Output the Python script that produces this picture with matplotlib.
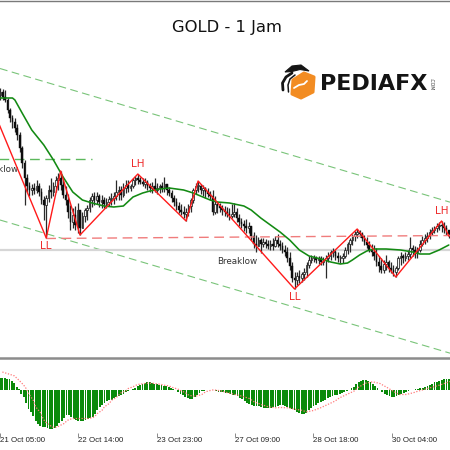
import numpy as np
import matplotlib
matplotlib.use("Agg")
import matplotlib.pyplot as plt
from matplotlib.patches import Polygon
from matplotlib.lines import Line2D
import matplotlib.transforms as mtransforms

# ---------------- data (price in chart points, one value per 1h bar) ----------------
tick_labels = ["21 Oct 05:00", "22 Oct 14:00", "23 Oct 23:00",
               "27 Oct 09:00", "28 Oct 18:00", "30 Oct 04:00"]
bars_per_tick = 33

high = [310, 312, 312, 312, 311, 310, 302, 292, 285, 282,
        276, 268, 254, 240, 226, 218, 216, 217, 220, 217,
        212, 204, 205, 215, 222, 218, 224, 227, 229, 220,
        214, 206, 195, 192, 194, 197, 190, 188, 192, 195,
        203, 207, 208, 208, 206, 205, 203, 202, 204, 207,
        208, 220, 214, 214, 217, 220, 220, 216, 222, 224,
        226, 223, 222, 222, 220, 217, 218, 222, 217, 216,
        218, 223, 215, 213, 210, 205, 202, 198, 196, 194,
        192, 196, 202, 212, 217, 219, 216, 215, 213, 212,
        209, 210, 204, 197, 197, 195, 194, 193, 192, 196,
        197, 192, 186, 182, 180, 181, 178, 174, 168, 165,
        163, 162, 162, 161, 160, 160, 162, 164, 166, 160,
        158, 155, 153, 148, 138, 128, 128, 130, 128, 132,
        138, 144, 145, 145, 144, 144, 144, 143, 145, 148,
        150, 152, 150, 148, 145, 147, 153, 158, 162, 166,
        169, 171, 170, 168, 165, 163, 159, 156, 155, 152,
        144, 142, 140, 145, 140, 138, 135, 134, 144, 148,
        146, 148, 150, 163, 155, 154, 153, 160, 164, 166,
        168, 171, 173, 174, 177, 178, 179, 178, 175, 170]

low = [300, 302, 301, 300, 300, 298, 287, 278, 272, 268,
       260, 248, 232, 195, 208, 204, 205, 206, 207, 204,
       196, 180, 162, 198, 202, 204, 208, 210, 210, 202,
       195, 182, 170, 172, 170, 167, 165, 172, 178, 180,
       188, 193, 195, 196, 193, 192, 192, 192, 194, 195,
       196, 200, 200, 200, 203, 207, 208, 209, 212, 215,
       216, 216, 214, 212, 210, 208, 207, 208, 206, 207,
       208, 208, 205, 204, 198, 194, 190, 187, 185, 182,
       179, 184, 188, 197, 206, 208, 206, 204, 202, 203,
       200, 185, 186, 187, 188, 185, 184, 183, 180, 182,
       183, 178, 174, 172, 169, 167, 167, 160, 152, 148,
       154, 147, 153, 152, 151, 150, 150, 153, 153, 150,
       147, 144, 138, 130, 118, 111, 115, 117, 118, 120,
       123, 132, 137, 138, 137, 136, 135, 135, 122, 138,
       140, 143, 140, 138, 137, 137, 142, 146, 148, 155,
       159, 162, 163, 159, 155, 152, 148, 144, 140, 134,
       128, 127, 127, 130, 128, 127, 124, 123, 130, 135,
       137, 139, 140, 142, 144, 142, 142, 148, 154, 156,
       158, 161, 165, 167, 168, 170, 168, 167, 165, 162]

close = [305, 308, 305, 308, 303, 300, 290, 282, 278, 272,
         265, 252, 237, 222, 214, 210, 212, 210, 214, 208,
         200, 195, 202, 210, 208, 214, 220, 222, 215, 205,
         200, 188, 178, 185, 175, 190, 172, 184, 190, 192,
         200, 204, 200, 204, 198, 200, 196, 198, 201, 202,
         204, 208, 210, 205, 212, 215, 212, 214, 220, 222,
         220, 218, 216, 218, 214, 212, 214, 210, 212, 214,
         212, 216, 210, 207, 202, 198, 194, 190, 188, 186,
         188, 194, 200, 210, 214, 214, 210, 212, 208, 206,
         204, 188, 196, 194, 192, 190, 188, 186, 184, 186,
         188, 182, 178, 176, 174, 172, 174, 164, 156, 154,
         160, 156, 158, 156, 154, 156, 154, 160, 156, 154,
         150, 148, 142, 134, 122, 120, 124, 122, 126, 128,
         135, 140, 142, 142, 140, 142, 138, 140, 142, 144,
         148, 148, 144, 142, 142, 144, 150, 156, 160, 164,
         166, 168, 166, 162, 158, 155, 150, 148, 144, 138,
         134, 130, 136, 138, 132, 130, 128, 132, 142, 144,
         142, 144, 146, 152, 150, 148, 150, 156, 160, 162,
         164, 168, 170, 172, 174, 175, 174, 172, 170, 166]

# moving average (green), read at sample bars
ma_bar = [0, 3, 8, 9, 12, 16, 21, 25, 29, 33, 37, 41, 46, 50, 54, 58, 62, 65, 69, 73,
          79, 83, 86, 90, 93, 98, 104, 107, 111, 115, 119, 123, 127, 131, 136, 140,
          144, 147, 149, 152, 155, 158, 163, 169, 174, 177, 181, 185, 189]
ma_val = [302, 302, 302, 300, 287, 270, 255, 240, 223, 208, 200, 197, 194, 193, 194, 203,
          207, 209, 211, 212, 210, 207, 204, 200, 198, 197, 194, 190, 182, 175, 168, 160,
          150, 144, 141, 138, 136, 137, 140, 145, 149, 151, 151, 150, 148, 146, 146, 150, 155]

# zigzag pivots
zz_bar = [0, 22, 28, 36, 60, 80, 85, 125, 151, 167, 186, 189]
zz_val = [290, 162, 229, 165, 226, 179, 219, 111, 171, 123, 179, 164]
pivot_names = {1: "LL", 4: "LH", 7: "LL", 10: "LH"}

# channel lines (two anchor points each), breaklow levels, resistance
upper_ch_bar, upper_ch_val = [0, 189], [333.5, 198.2]
lower_ch_bar, lower_ch_val = [0, 189], [182.0, 47.2]
old_breaklow_bar, old_breaklow_val = [0, 41], [241, 241]
breaklow_level = 150
res_bar, res_val = [22, 190], [161.5, 164.5]

# MACD histogram (one value per bar) and signal line
macd_hist = [12, 12, 11.5, 11, 11, 9, 7, 3, 0.5, -4,
             -7, -13, -19, -22, -26.5, -31, -34.5, -36, -37, -37.7,
             -38.3, -39, -39.5, -38.5, -36.5, -33.5, -31.5, -28.5, -25.7, -25.7,
             -27, -29, -30.2, -31.5, -31.7, -31.5, -30.7, -29.3, -28.2, -27.2,
             -24.5, -20.5, -17.5, -15.3, -13, -11.7, -10.8, -10.2, -8.8, -7.5,
             -6.3, -5.3, -4, -2.5, -1.2, -0.3, 0.5, 1.7, 3.7, 4.8,
             6, 7, 7.6, 7.5, 7, 6, 5.2, 4.6, 4.3, 3.8,
             3.3, 2.8, 2, 0.8, -0.8, -2.5, -4.5, -5.8, -7, -8.5,
             -9.5, -9.3, -7.8, -5.7, -3.5, -1.8, -1, -0.4, -0.1, 0,
             -0.3, -1.4, -2, -2.3, -2.9, -3.3, -3.9, -4.5, -5, -5.7,
             -6.8, -8.2, -9.5, -11.2, -13, -14.6, -15.8, -16.2, -16.5, -16.9,
             -17.3, -18, -18.3, -18.3, -18.3, -17.8, -17.1, -16.3, -15.8, -15.9,
             -16.4, -17.1, -18, -19.5, -20.7, -22.5, -23.7, -24, -24, -23,
             -20.5, -18.5, -16.8, -15.2, -13.7, -12.1, -11.2, -10, -8.8, -7.3,
             -6.3, -5.6, -5, -4.1, -3.4, -2.8, -1.8, -0.3, 1.3, 3,
             5.5, 7.5, 8.6, 9.3, 9.2, 8.5, 7.2, 6, 4, 1.8,
             -0.5, -2, -4, -5.5, -6.4, -7, -7.2, -6.5, -5, -4,
             -3.1, -2.3, -1.1, -0.4, 0, 0.3, 0.8, 1.5, 2, 3,
             4, 5, 6, 7.2, 7.9, 8.5, 9.7, 10.5, 11, 11]

sig_bar = [1, 3, 6, 8, 10, 11, 12, 14, 15, 17, 18, 19, 21, 22, 24, 25, 27, 28, 29, 31,
           37, 39, 40, 41, 43, 44, 46, 47, 49, 50, 51, 53, 54, 56, 57, 58, 60, 61, 62, 64,
           65, 66, 68, 69, 71, 72, 73, 75, 76, 78, 79, 80, 82, 83, 85, 86, 87, 89, 90, 91,
           93, 94, 95, 96, 99, 102, 105, 107, 110, 113, 116, 118, 121, 124, 127, 129, 132,
           135, 138, 141, 143, 146, 149, 151, 154, 157, 160, 163, 166, 168, 171, 174, 176,
           179, 182, 185, 188, 190]
sig_val = [17.5, 16, 13.7, 9.3, 4.3, 1, -4, -10.7, -17.3, -23, -28.3, -32.3, -35.7, -37.7,
           -37.7, -36.3, -34, -31.7, -30, -29, -29, -28.3, -26.7, -24, -20.7, -17.3, -14,
           -10.7, -8, -5.7, -3.3, -1.3, 1, 2.7, 4, 5, 5.7, 6, 6.3, 6.3, 6, 5.7, 5, 4.3, 3.7,
           2.7, 1.7, 0.3, -1, -3, -5, -6, -6.7, -6.3, -5, -3.3, -2, -0.7, -0.3, -0.7, -1.3,
           -2, -2.7, -3.3, -5, -6.7, -9, -12.3, -15, -17.3, -18.3, -18, -18.3, -19.7, -20.7,
           -22.3, -21, -18.3, -15, -11.7, -8.3, -5, -1.7, 2.3, 6.3, 7.7, 6, 2, -2.3, -5, -5,
           -3.3, -1.7, 0.3, 2.3, 4.3, 6.7, 8.3]

# ---------------- figure ----------------
W = H = 450
fig = plt.figure(figsize=(4.5, 4.5), dpi=100)
fig.patch.set_facecolor("white")

XLIM = (2.82, 189.5)
ax = fig.add_axes([0, 1 - 357 / H, 1, 357 / H])
ax.set_xlim(*XLIM)
ax.set_ylim(43, 400)
ax.axis("off")

hi = np.array(high, float)
lo = np.array(low, float)
c = np.array(close, float)
o = np.r_[c[0], c[:-1]]           # open = previous close
idx = np.arange(len(c))

# channel + levels
dash = (0, (7, 4))
ax.axline((upper_ch_bar[0], upper_ch_val[0]), (upper_ch_bar[1], upper_ch_val[1]),
          color="#79c479", lw=0.8, ls=dash, zorder=1)
ax.axline((lower_ch_bar[0], lower_ch_val[0]), (lower_ch_bar[1], lower_ch_val[1]),
          color="#79c479", lw=0.8, ls=dash, zorder=1)
ax.plot(old_breaklow_bar, old_breaklow_val, color="#5cb85c", lw=1.0, ls=dash, zorder=1)
ax.axhline(breaklow_level, color="#d6d6d6", lw=1.6, zorder=1)
ax.plot(res_bar, res_val, color="#f07c7c", lw=1.0, ls=dash, zorder=4)

# candles
ax.vlines(idx, np.minimum(lo, np.minimum(o, c)), np.maximum(hi, np.maximum(o, c)),
          color="#2a2a2a", lw=0.9, zorder=2)
bull = c >= o
bear = ~bull
ax.bar(idx[bull], np.maximum(c[bull] - o[bull], 0.8), bottom=o[bull], width=0.68,
       color="#f4f4f4", edgecolor="#1e1e1e", lw=0.55, zorder=3)
ax.bar(idx[bear], o[bear] - c[bear], bottom=c[bear], width=0.68,
       color="#0c0c0c", edgecolor="#0c0c0c", lw=0.3, zorder=3)

# moving average and zigzag
ax.plot(ma_bar, ma_val, color="#138a13", lw=1.15, zorder=5, solid_capstyle="round")
ax.plot(zz_bar, zz_val, color="#ff1a1a", lw=1.0, zorder=6)

for k, name in pivot_names.items():
    dy = -6 if name == "LL" else 7
    ax.annotate(name, (zz_bar[k], zz_val[k]), xytext=(0, dy), textcoords="offset points",
                ha="center", va="center", color="#ee2a2a", fontsize=7.5, zorder=7)

ax.text(10.3, 231, "Breaklow", ha="right", va="center", fontsize=6.3, color="#333333")
ax.text(101.2, 138, "Breaklow", ha="center", va="center", fontsize=6.3, color="#333333")

# ---------------- MACD panel ----------------
axm = fig.add_axes([0, 1 - 433 / H, 1, 74 / H])
axm.set_xlim(*XLIM)
axm.set_ylim(-43.5, 30.5)
axm.set_facecolor("none")
for s in axm.spines.values():
    s.set_visible(False)
axm.bar(idx, macd_hist, width=0.78, color="#0a8a0a", zorder=2)
axm.plot(sig_bar, sig_val, color="#ff7a7a", lw=0.9, ls=(0, (1, 1.3)), zorder=3)
tick_pos = np.arange(len(tick_labels)) * bars_per_tick
axm.set_yticks([])
axm.set_xticks(tick_pos)
axm.set_xticklabels([])
axm.tick_params(axis="x", direction="out", length=2.6, width=0.7, color="#8a8a8a")
trans = mtransforms.blended_transform_factory(axm.transData, axm.transAxes)
for p, lab in zip(tick_pos, tick_labels):
    axm.text(p, -3.6 / 74, lab, transform=trans, ha="left", va="top",
             fontsize=5.7, family="Liberation Sans", color="#222222", clip_on=False)

# separators / borders
fig.add_artist(Line2D([0, 1], [1 - 358 / H] * 2, transform=fig.transFigure,
                      color="#8c8c8c", lw=1.8))
fig.add_artist(Line2D([0, 1], [1 - 1.3 / H] * 2, transform=fig.transFigure,
                      color="#7a7a7a", lw=1.0))

# ---------------- title and logo (pixel overlay) ----------------
ov = fig.add_axes([0, 0, 1, 1])
ov.set_xlim(0, W)
ov.set_ylim(H, 0)
ov.axis("off")
ov.text(227, 32, "GOLD - 1 Jam", ha="center", va="baseline", fontsize=11.8, color="#111111")

ov.add_patch(Polygon([(293, 80), (304, 73), (314, 77), (313, 92), (301, 98), (292, 94)],
                     closed=True, facecolor="#f28c22", edgecolor="#f28c22", lw=2.2,
                     joinstyle="round"))
ov.plot([294, 299, 304, 307], [88, 85, 84, 81], color="white", lw=1.3, solid_capstyle="round")
ov.add_patch(Polygon([(285, 72), (292, 66), (301, 65), (309, 71), (300, 69.5), (292, 71.5)],
                     closed=True, facecolor="#151515", edgecolor="#151515", lw=0.8))
ov.plot([292, 286, 282.5, 283], [73, 77, 83, 90], color="#151515", lw=2.0, solid_capstyle="round")
ov.plot([295, 290, 288, 288.5], [75, 79, 85, 92], color="#151515", lw=1.1, solid_capstyle="round")
ov.text(320, 90.5, "PEDIAFX", ha="left", va="baseline", fontsize=16, fontweight="bold",
        color="#141414")
ov.text(430.5, 84, ".COM", ha="center", va="center", rotation=270, fontsize=3.3,
        color="#333333")

fig.savefig("out.png", dpi=100, facecolor="white")
